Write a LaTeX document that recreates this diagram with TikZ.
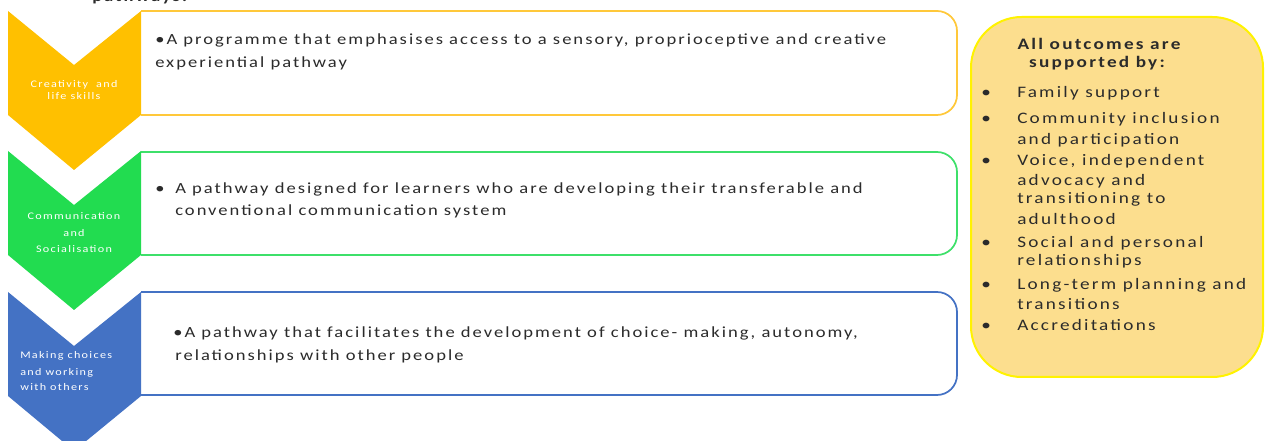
\documentclass[tikz,border=0pt]{standalone}
\usepackage{fontspec}
\setmainfont{Carlito}
\newfontfamily\boxfont[FakeStretch=1.2, LetterSpace=13]{Carlito}
\newfontfamily\sidefont[FakeStretch=1.2, LetterSpace=14]{Carlito}
\definecolor{cyel}{HTML}{FFC000}
\definecolor{cgrn}{HTML}{22DC50}
\definecolor{cblu}{HTML}{4472C4}
\definecolor{byel}{HTML}{FFC83A}
\definecolor{bgrn}{HTML}{3EE06A}
\definecolor{side}{HTML}{FCDE8E}
\definecolor{sideb}{HTML}{FFF200}
\definecolor{txt}{HTML}{2B2B2B}
\tikzset{
  boxtext/.style={anchor=base west, inner sep=0pt, font=\boxfont\fontsize{11.6}{15}\selectfont, text=txt},
  chevlab/.style={anchor=base, inner sep=0pt, font=\boxfont\fontsize{7.6}{9}\selectfont, text=white},
  sidetext/.style={anchor=base west, inner sep=0pt, font=\sidefont\fontsize{12}{15}\selectfont, text=txt},
  sidehead/.style={anchor=base, inner sep=0pt, font=\sidefont\bfseries\fontsize{12}{15}\selectfont, text=txt},
  pathbox/.style={line width=1.3pt, rounded corners=15pt, fill=white}
}
\begin{document}
\begin{tikzpicture}[x=0.75pt,y=-0.75pt]
\useasboundingbox (0,0) rectangle (1265,441);
\clip (0,0) rectangle (1265,441);
% partial heading text
\node[anchor=base west, inner sep=0pt, font=\boxfont\bfseries\fontsize{11.6}{15}\selectfont, text=txt] (head) at (92,2) {pathways.};
% boxes
\draw[pathbox, draw=byel] (141,11) -- (957,11) -- (957,115) -- (141,115);
\draw[pathbox, draw=bgrn] (141,152) -- (957,152) -- (957,255) -- (141,255);
\draw[pathbox, draw=cblu] (141,292) -- (957,292) -- (957,395) -- (141,395);
% chevrons
\fill[cyel] (8,11) -- (74,65) -- (141,11) -- (141,115) -- (74,170) -- (8,115) -- cycle;
\fill[cgrn] (8,151) -- (74,205) -- (141,151) -- (141,255) -- (74,310) -- (8,255) -- cycle;
\fill[cblu] (8,292) -- (74,346) -- (141,292) -- (141,396) -- (74,451) -- (8,396) -- cycle;
% chevron labels
\node[chevlab] (l1a) at (74,88) {Creativity \ and};
\node[chevlab] (l1b) at (74,100) {life skills};
\node[chevlab] (l2a) at (74,220) {Communication};
\node[chevlab] (l2b) at (74,237) {and};
\node[chevlab] (l2c) at (74,253) {Socialisation};
\node[chevlab, anchor=base west] (l3a) at (20,359) {Making choices};
\node[chevlab, anchor=base west] (l3b) at (20,376) {and working};
\node[chevlab, anchor=base west] (l3c) at (20,391) {with others};
% box texts
\node[boxtext] (t1a) at (155,45) {\textbullet A programme that emphasises access to a sensory, proprioceptive and creative};
\node[boxtext] (t1b) at (155,68) {experiential pathway};
\node[boxtext] (t2bul) at (155,194) {\textbullet};
\node[boxtext] (t2a) at (175,194) {A pathway designed for learners who are developing their transferable and};
\node[boxtext] (t2b) at (175,216) {conventional communication system};
\node[boxtext] (t3a) at (173,338) {\textbullet A pathway that facilitates the development of choice- making, autonomy,};
\node[boxtext] (t3b) at (175,361) {relationships with other people};
% side box
\draw[line width=1.5pt, draw=sideb, fill=side, rounded corners=38pt] (971,17) rectangle (1263,377);
\node[sidehead] (h1) at (1099,50) {All outcomes are};
\node[sidehead] (h2) at (1097,68) {supported by:};
\foreach \yy/\nm in {98/b1,124/b2,166/b3,248/b4,290/b5,331/b6}{
  \node[sidetext] (\nm) at (981,\yy) {\textbullet};
}
\node[sidetext] (s1) at (1017,98) {Family support};
\node[sidetext] (s2a) at (1017,124) {Community inclusion};
\node[sidetext] (s2b) at (1017,145) {and participation};
\node[sidetext] (s3a) at (1017,166) {Voice, independent};
\node[sidetext] (s3b) at (1017,186) {advocacy and};
\node[sidetext] (s3c) at (1017,204) {transitioning to};
\node[sidetext] (s3d) at (1017,225) {adulthood};
\node[sidetext] (s4a) at (1017,248) {Social and personal};
\node[sidetext] (s4b) at (1017,266) {relationships};
\node[sidetext] (s5a) at (1017,290) {Long-term planning and};
\node[sidetext] (s5b) at (1017,310) {transitions};
\node[sidetext] (s6) at (1017,331) {Accreditations};
\end{tikzpicture}
\end{document}
